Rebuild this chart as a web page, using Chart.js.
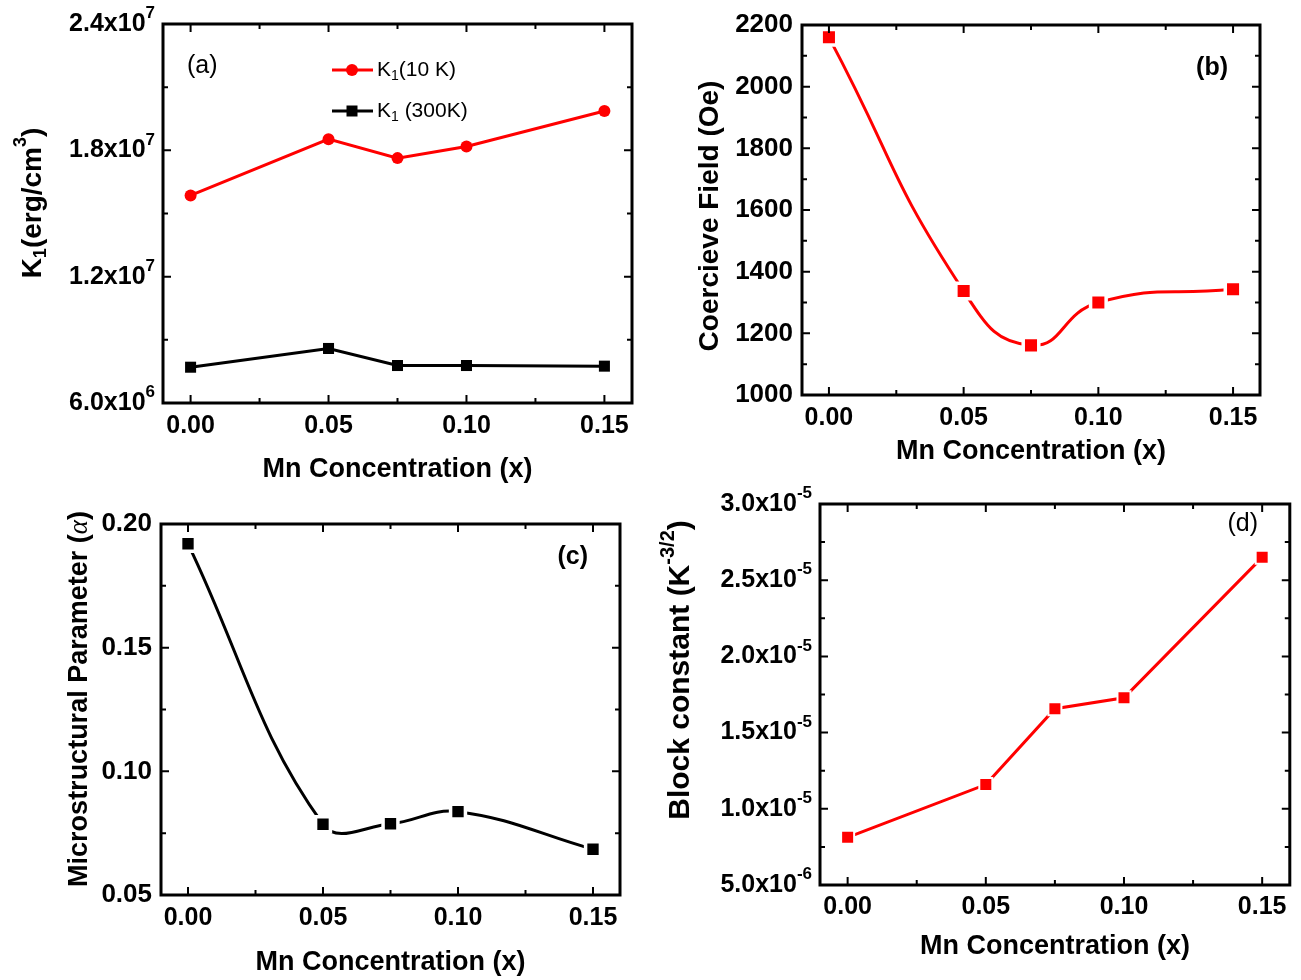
<!DOCTYPE html>
<html>
<head>
<meta charset="utf-8">
<script src="https://cdn.jsdelivr.net/npm/chart.js@4.4.1/dist/chart.umd.min.js"></script>
<style>
  html, body { margin: 0; padding: 0; background: #fff; }
  #wrap { position: relative; width: 1301px; height: 980px; }
  canvas { position: absolute; }
</style>
</head>
<body>
<div id="wrap">
  <canvas id="chartA" width="650" height="490" style="left:0;top:0"></canvas>
  <canvas id="chartB" width="651" height="480" style="left:650px;top:0"></canvas>
  <canvas id="chartC" width="650" height="500" style="left:0;top:480px"></canvas>
  <canvas id="chartD" width="651" height="500" style="left:650px;top:480px"></canvas>
</div>
<script>
// values
const mnConc = [0, 0.05, 0.075, 0.10, 0.15];
const k1At10K = [1.586e7, 1.853e7, 1.763e7, 1.818e7, 1.987e7];
const k1At300K = [7.70e6, 8.59e6, 7.78e6, 7.78e6, 7.75e6];
const coerciveField = [2160, 1337, 1161, 1300, 1343];
const microParam = [0.192, 0.0786, 0.0788, 0.0837, 0.0685];
const blockConst = [8.13e-6, 1.159e-5, 1.657e-5, 1.728e-5, 2.65e-5];

// tick labels ('^' marks the exponent)
const xTicks = [0, 0.05, 0.10, 0.15];
const xMinorTicks = [0.025, 0.075, 0.125];
const xTickLabels = ['0.00', '0.05', '0.10', '0.15'];
const aTicks = [6e6, 1.2e7, 1.8e7, 2.4e7];
const aTickLabels = ['6.0x10^6', '1.2x10^7', '1.8x10^7', '2.4x10^7'];
const bTicks = [1000, 1200, 1400, 1600, 1800, 2000, 2200];
const bTickLabels = ['1000', '1200', '1400', '1600', '1800', '2000', '2200'];
const cTicks = [0.05, 0.10, 0.15, 0.20];
const cTickLabels = ['0.05', '0.10', '0.15', '0.20'];
const dTicks = [5e-6, 1e-5, 1.5e-5, 2e-5, 2.5e-5, 3e-5];
const dTickLabels = ['5.0x10^-6', '1.0x10^-5', '1.5x10^-5', '2.0x10^-5', '2.5x10^-5', '3.0x10^-5'];

const RED = '#ff0000';
const FONT = '"Liberation Sans", Arial, Helvetica, sans-serif';
Chart.defaults.font.family = FONT;
Chart.defaults.color = '#000';

const pts = ys => mnConc.map((x, i) => ({x: x, y: ys[i]}));
const midpoints = arr => arr.slice(1).map((v, i) => (v + arr[i]) / 2);

// draw a string made of normal / sub / sup / greek parts
function drawRich(ctx, parts, x, y, size, weight, rotate, align) {
  ctx.save();
  ctx.translate(x, y);
  if (rotate) ctx.rotate(-Math.PI / 2);
  const fontFor = k => {
    if (k === 'greek') return `italic ${size}px "Liberation Serif", "DejaVu Serif", serif`;
    return `${weight} ${k ? Math.round(size * 0.66) : size}px ${FONT}`;
  };
  let total = 0;
  parts.forEach(([t, k]) => { ctx.font = fontFor(k); total += ctx.measureText(t).width; });
  let cx = align === 'left' ? 0 : align === 'right' ? -total : -total / 2;
  ctx.textBaseline = 'middle';
  ctx.textAlign = 'left';
  ctx.fillStyle = '#000';
  parts.forEach(([t, k]) => {
    ctx.font = fontFor(k);
    const dy = k === 'sub' ? size * 0.3 : k === 'sup' ? -size * 0.42 : 0;
    ctx.fillText(t, cx, dy);
    cx += ctx.measureText(t).width;
  });
  ctx.restore();
}

// extra decoration per panel
const panelDeco = {
  chartA: {
    yMajor: aTicks,
    richTicks: aTickLabels,
    label: {text: '(a)', x: 187, y: 66, align: 'left', weight: 'normal'},
    yTitle: {parts: [['K', ''], ['1', 'sub'], ['(erg/cm', ''], ['3', 'sup'], [')', '']], x: 33, y: 203, size: 28},
    legend: [
      {parts: [['K', ''], ['1', 'sub'], ['(10 K)', '']], y: 70, color: RED, marker: 'circle'},
      {parts: [['K', ''], ['1', 'sub'], [' (300K)', '']], y: 111, color: '#000', marker: 'rect'}
    ]
  },
  chartB: {
    yMajor: bTicks,
    label: {text: '(b)', x: 578, y: 68, align: 'right', weight: 'bold'},
    yTitle: {parts: [['Coercieve Field (Oe)', '']], x: 60, y: 216, size: 28}
  },
  chartC: {
    yMajor: cTicks,
    label: {text: '(c)', x: 588, y: 77, align: 'right', weight: 'bold'},
    yTitle: {parts: [['Microstructural Parameter (', ''], ['α', 'greek'], [')', '']], x: 80, y: 219, size: 27}
  },
  chartD: {
    yMajor: dTicks,
    richTicks: dTickLabels,
    label: {text: '(d)', x: 608, y: 44, align: 'right', weight: 'normal'},
    yTitle: {parts: [['Block constant (K', ''], ['-3/2', 'sup'], [')', '']], x: 31, y: 190, size: 30}
  }
};

const framePlugin = {
  id: 'frame',
  afterDraw(chart) {
    const deco = panelDeco[chart.canvas.id];
    const {ctx, chartArea: a} = chart;
    const xs = chart.scales.x, ys = chart.scales.y;
    ctx.save();
    ctx.strokeStyle = '#000';
    ctx.lineWidth = 2;
    const mark = (v, len, onX) => {
      ctx.beginPath();
      if (onX) {
        const p = xs.getPixelForValue(v);
        ctx.moveTo(p, a.bottom); ctx.lineTo(p, a.bottom - len);
        ctx.moveTo(p, a.top); ctx.lineTo(p, a.top + len);
      } else {
        const p = ys.getPixelForValue(v);
        ctx.moveTo(a.left, p); ctx.lineTo(a.left + len, p);
        ctx.moveTo(a.right, p); ctx.lineTo(a.right - len, p);
      }
      ctx.stroke();
    };
    xTicks.forEach(v => mark(v, 8, true));
    xMinorTicks.forEach(v => mark(v, 5, true));
    deco.yMajor.forEach(v => mark(v, 8, false));
    midpoints(deco.yMajor).forEach(v => mark(v, 5, false));
    ctx.lineWidth = 3;
    ctx.strokeRect(a.left, a.top, a.right - a.left, a.bottom - a.top);

    // y tick labels with exponents
    if (deco.richTicks) {
      deco.yMajor.forEach((v, i) => {
        const [base, exp] = deco.richTicks[i].split('^');
        drawRich(ctx, [[base, ''], [exp, 'sup']], a.left - 8, ys.getPixelForValue(v), 25, 'bold', false, 'right');
      });
    }

    // panel letter
    const lb = deco.label;
    ctx.font = `${lb.weight} 25px ${FONT}`;
    ctx.fillStyle = '#000';
    ctx.textAlign = lb.align;
    ctx.textBaseline = 'middle';
    ctx.fillText(lb.text, lb.x, lb.y);
    ctx.textAlign = 'left';

    const yt = deco.yTitle;
    drawRich(ctx, yt.parts, yt.x, yt.y, yt.size, 'bold', true, 'center');

    if (deco.legend) {
      deco.legend.forEach(item => {
        ctx.strokeStyle = item.color;
        ctx.fillStyle = item.color;
        ctx.lineWidth = 3;
        ctx.beginPath();
        ctx.moveTo(332, item.y); ctx.lineTo(373, item.y);
        ctx.stroke();
        ctx.beginPath();
        if (item.marker === 'circle') ctx.arc(352, item.y, 6, 0, Math.PI * 2);
        else ctx.rect(346.5, item.y - 5.5, 11, 11);
        ctx.fill();
        drawRich(ctx, item.parts, 377, item.y, 21, 'normal', false, 'left');
      });
    }
    ctx.restore();
  }
};

const xTickFont = {size: 25, weight: 'bold'};
const yTickFont = {size: 26, weight: 'bold'};
const titleFont = {size: 27, weight: 'bold'};

function makeChart(id, cfg) {
  return new Chart(document.getElementById(id), {
    type: 'line',
    data: {datasets: cfg.datasets},
    options: {
      responsive: false,
      animation: false,
      devicePixelRatio: 1,
      events: [],
      layout: {padding: {top: cfg.top, right: cfg.right, left: 0, bottom: 0}},
      plugins: {legend: {display: false}, tooltip: {enabled: false}},
      scales: {
        x: {
          type: 'linear',
          min: -0.01,
          max: 0.16,
          afterBuildTicks: s => { s.ticks = xTicks.map(v => ({value: v})); },
          afterFit: s => { s.height = cfg.xAxisH; },
          grid: {display: false, drawTicks: false},
          border: {display: false},
          ticks: {
            padding: cfg.xTickPad,
            font: xTickFont,
            maxRotation: 0,
            autoSkip: false,
            callback: (v, i) => xTickLabels[i]
          },
          title: {
            display: true,
            text: 'Mn Concentration (x)',
            font: titleFont,
            padding: {top: 0, bottom: cfg.xTitlePad}
          }
        },
        y: {
          type: 'linear',
          min: cfg.yTicks[0],
          max: cfg.yTicks[cfg.yTicks.length - 1],
          afterBuildTicks: s => { s.ticks = cfg.yTicks.map(v => ({value: v})); },
          afterFit: s => { s.width = cfg.yAxisW; },
          grid: {display: false, drawTicks: false},
          border: {display: false},
          ticks: {
            display: !!cfg.yTickLabels,
            padding: 9,
            font: yTickFont,
            autoSkip: false,
            callback: (v, i) => cfg.yTickLabels ? cfg.yTickLabels[i] : ''
          },
          title: {display: false}
        }
      }
    },
    plugins: [framePlugin]
  });
}

// (a) anisotropy constant
makeChart('chartA', {
  top: 24, right: 18, yAxisW: 163, xAxisH: 87,
  xTickPad: 8, xTitlePad: 4,
  yTicks: aTicks,
  datasets: [
    {
      label: 'K1(10 K)', data: pts(k1At10K),
      borderColor: RED, backgroundColor: RED, borderWidth: 3, tension: 0,
      pointStyle: 'circle', pointRadius: 6, pointBackgroundColor: RED, pointBorderWidth: 0
    },
    {
      label: 'K1 (300K)', data: pts(k1At300K),
      borderColor: '#000', backgroundColor: '#000', borderWidth: 3, tension: 0,
      pointStyle: 'rect', pointRadius: 7.8, pointBackgroundColor: '#000', pointBorderWidth: 0
    }
  ]
});

// (b) coercive field
makeChart('chartB', {
  top: 25, right: 41, yAxisW: 152, xAxisH: 85,
  xTickPad: 8, xTitlePad: 12,
  yTicks: bTicks, yTickLabels: bTickLabels,
  datasets: [{
    label: 'Coercieve Field', data: pts(coerciveField),
    borderColor: RED, borderWidth: 3, tension: 0.5,
    pointStyle: 'rect', pointRadius: 11, pointBackgroundColor: RED,
    pointBorderColor: '#fff', pointBorderWidth: 3.5
  }]
});

// (c) microstructural parameter
makeChart('chartC', {
  top: 44, right: 30, yAxisW: 161, xAxisH: 85,
  xTickPad: 8, xTitlePad: 1,
  yTicks: cTicks, yTickLabels: cTickLabels,
  datasets: [{
    label: 'alpha', data: pts(microParam),
    borderColor: '#000', borderWidth: 3, tension: 0.4,
    pointStyle: 'rect', pointRadius: 10.5, pointBackgroundColor: '#000',
    pointBorderColor: '#fff', pointBorderWidth: 3.5
  }]
});

// (d) Bloch constant
makeChart('chartD', {
  top: 24, right: 10, yAxisW: 170, xAxisH: 95,
  xTickPad: 7, xTitlePad: 17,
  yTicks: dTicks,
  datasets: [{
    label: 'Block constant', data: pts(blockConst),
    borderColor: RED, borderWidth: 3, tension: 0,
    pointStyle: 'rect', pointRadius: 9.2, pointBackgroundColor: RED,
    pointBorderColor: '#fff', pointBorderWidth: 2
  }]
});
</script>
</body>
</html>
